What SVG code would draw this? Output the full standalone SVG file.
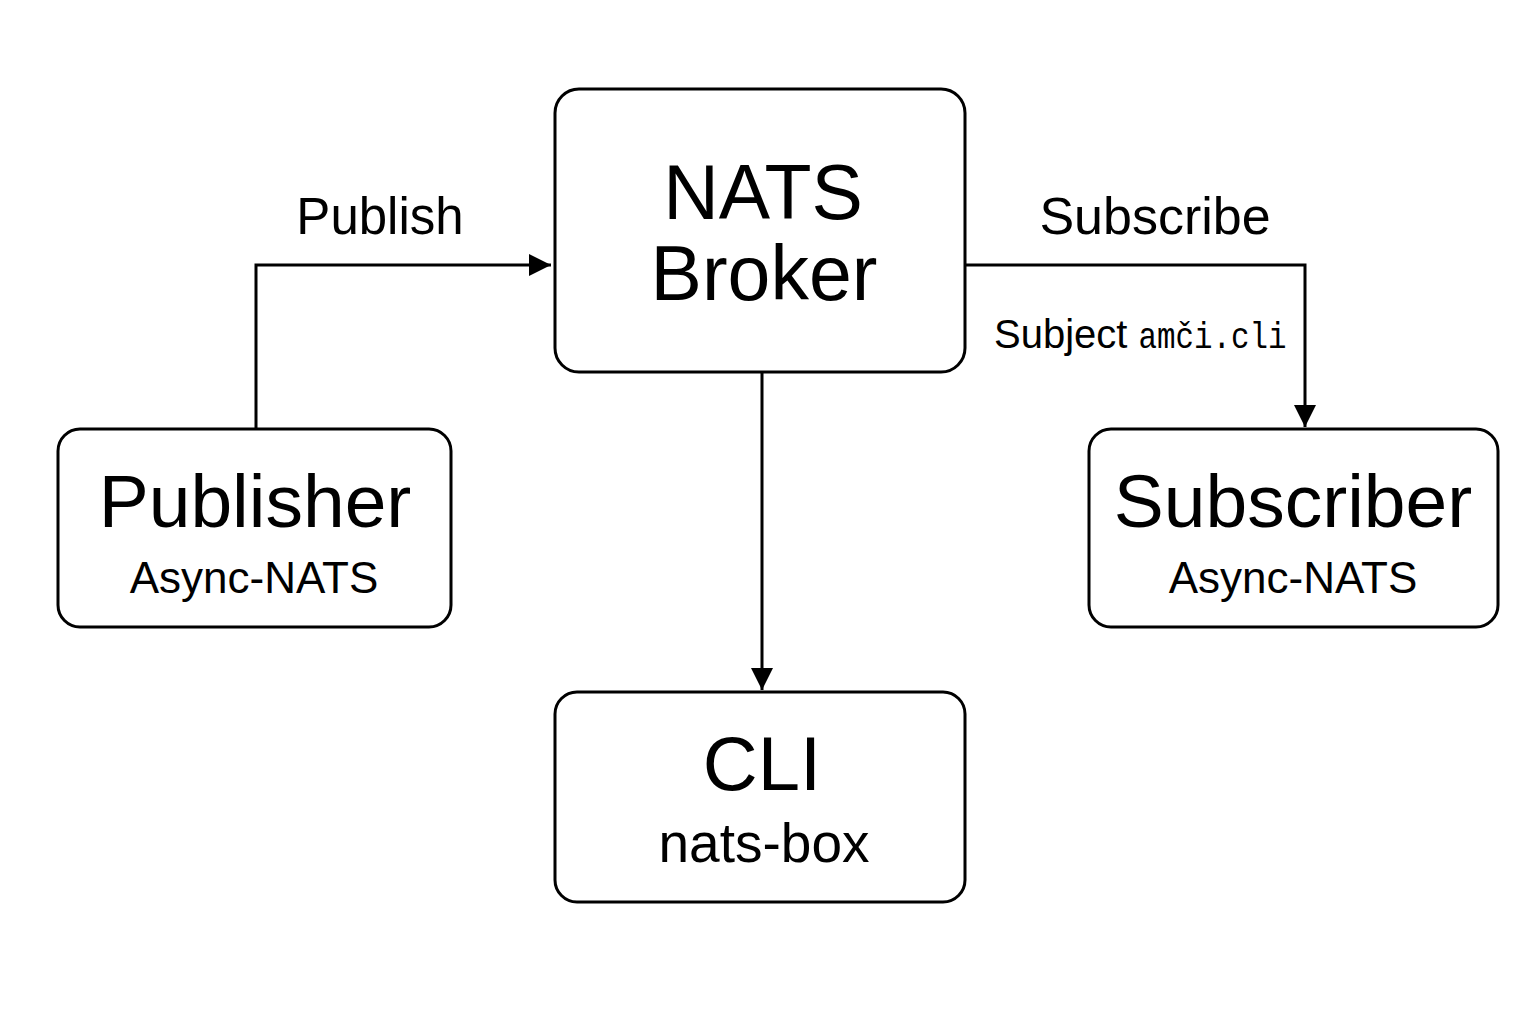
<svg xmlns="http://www.w3.org/2000/svg" width="1536" height="1024" viewBox="0 0 1536 1024">
<style>
.box{fill:#fff;stroke:#000;stroke-width:3}
.t{font-family:"Liberation Sans",Arial,sans-serif;fill:#000;text-anchor:middle}
.c{fill:none;stroke:#000;stroke-width:3}
.m{font-family:"Liberation Mono","DejaVu Sans Mono",monospace}
</style>
<defs>
<marker id="ah" markerWidth="22" markerHeight="22" refX="22" refY="11" orient="auto" markerUnits="userSpaceOnUse">
<path d="M0,0 L22,11 L0,22 Z" fill="#000"/>
</marker>
</defs>
<rect width="1536" height="1024" fill="#fff"/>
<g id="connectors">
<path class="c" d="M256,429 V265 H551" marker-end="url(#ah)"/>
<path class="c" d="M966,265 H1305 V427" marker-end="url(#ah)"/>
<path class="c" d="M762,372 V690" marker-end="url(#ah)"/>
</g>
<g id="labels">
<text class="t" x="380" y="234" font-size="51">Publish</text>
<text class="t" x="1155" y="234" font-size="52">Subscribe</text>
<text x="994" y="348" font-size="40" font-family="Liberation Sans,Arial,sans-serif">Subject <tspan class="m" font-size="36" textLength="148" lengthAdjust="spacingAndGlyphs">amči.cli</tspan></text>
</g>
<g id="broker">
<rect class="box" x="555" y="89" width="410" height="283" rx="24"/>
<text class="t" x="763" y="219" font-size="77">NATS</text>
<text class="t" x="764" y="300" font-size="77">Broker</text>
</g>
<g id="publisher">
<rect class="box" x="58" y="429" width="393" height="198" rx="22"/>
<text class="t" x="255" y="527" font-size="75">Publisher</text>
<text class="t" x="254" y="593" font-size="44">Async-NATS</text>
</g>
<g id="subscriber">
<rect class="box" x="1089" y="429" width="409" height="198" rx="22"/>
<text class="t" x="1293" y="527" font-size="75">Subscriber</text>
<text class="t" x="1293" y="593" font-size="44">Async-NATS</text>
</g>
<g id="cli">
<rect class="box" x="555" y="692" width="410" height="210" rx="22"/>
<text class="t" x="762" y="790" font-size="76">CLI</text>
<text class="t" x="764" y="862" font-size="55">nats-box</text>
</g>
</svg>
